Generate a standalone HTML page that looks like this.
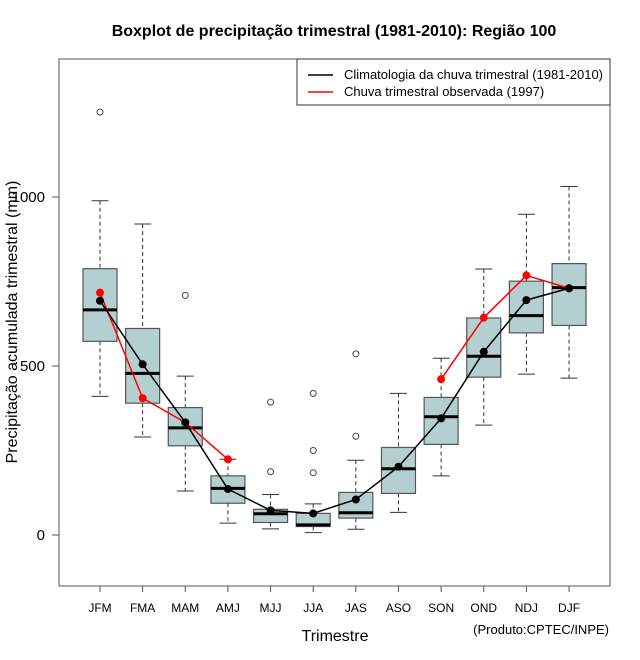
<!DOCTYPE html>
<html><head><meta charset="utf-8"><style>
html,body{margin:0;padding:0;background:#fff;}
svg{display:block;font-family:"Liberation Sans",sans-serif;}
</style></head><body>
<svg id="chart" width="640" height="660" viewBox="0 0 640 660">
<text x="334" y="36" text-anchor="middle" font-size="16" font-weight="bold">Boxplot de precipitação trimestral (1981-2010): Região 100</text>
<rect x="59" y="59" width="551" height="527" fill="none" stroke="#555" stroke-width="1"/>
<g id="yaxis"></g>
<g id="xaxis"></g>
<g id="boxes"></g>
<g id="lines"></g>
<text transform="translate(17,322) rotate(-90)" text-anchor="middle" font-size="16">Precipitação acumulada trimestral (mm)</text>
<text x="335" y="641" text-anchor="middle" font-size="16">Trimestre</text>
<text x="609" y="634" text-anchor="end" font-size="13">(Produto:CPTEC/INPE)</text>
<g>
<rect x="297" y="59" width="313" height="46" fill="#fff" stroke="#333" stroke-width="1"/>
<line x1="308" y1="75" x2="333" y2="75" stroke="#000" stroke-width="1.5"/>
<text x="344" y="79" font-size="13" textLength="259">Climatologia da chuva trimestral (1981-2010)</text>
<line x1="308" y1="92" x2="333" y2="92" stroke="#f00" stroke-width="1.5"/>
<text x="344" y="96" font-size="13">Chuva trimestral observada (1997)</text>
</g>
</svg>
<script>
const categories=["JFM","FMA","MAM","AMJ","MJJ","JJA","JAS","ASO","SON","OND","NDJ","DJF"];
const whiskLow=[410,290,130,35,18,7,17,67,175,325,476,464];
const q1=[573,390,264,94,37,25,50,123,268,467,598,620];
const median=[666,478,317,138,63,30,66,196,350,529,649,732];
const q3=[788,611,377,175,76,64,126,259,407,642,751,803];
const whiskHigh=[989,920,470,224,120,92,221,419,523,787,949,1031];
const outliers=[[1251],[],[709],[],[393,187],[419,250,184],[536,292],[],[],[],[],[]];
const climatology=[693,505,333,136,73,64,105,202,345,542,695,730];
const observed=[717,405,333,224,null,null,null,null,461,643,768,730];
const yTicks=[0,500,1000];

const NS="http://www.w3.org/2000/svg";
const xs=i=>100+i*42.64;
const ys=v=>535-v*0.338;
function mk(tag,attrs,parent){const e=document.createElementNS(NS,tag);for(const k in attrs)e.setAttribute(k,attrs[k]);parent.appendChild(e);return e;}
const yax=document.getElementById('yaxis'),xax=document.getElementById('xaxis'),bx=document.getElementById('boxes'),ln=document.getElementById('lines');
mk('line',{x1:59,y1:ys(0),x2:59,y2:ys(1000),stroke:'#555'},yax);
yTicks.forEach(t=>{
  const l=mk('line',{x1:52,y1:ys(t),x2:59,y2:ys(t),stroke:'#555'},yax);
  
  
  const tx=mk('text',{x:45,y:ys(t)+5,'text-anchor':'end','font-size':15},yax);
  tx.textContent=t;
  
  
});
mk('line',{x1:xs(0),y1:586,x2:xs(11),y2:586,stroke:'#555'},xax);
categories.forEach((c,i)=>{
  const l=mk('line',{x1:xs(i),y1:586,x2:xs(i),y2:592,stroke:'#555'},xax);
  
  
  const tx=mk('text',{x:xs(i),y:612,'text-anchor':'middle','font-size':12},xax);
  tx.textContent=c;
  
  
  const g=mk('g',{},bx);
  
  
  const x=xs(i),hw=17,cw=8.5;
  mk('line',{x1:x,y1:ys(whiskHigh[i]),x2:x,y2:ys(q3[i]),stroke:'#333','stroke-dasharray':'4,3'},g);
  mk('line',{x1:x,y1:ys(q1[i]),x2:x,y2:ys(whiskLow[i]),stroke:'#333','stroke-dasharray':'4,3'},g);
  mk('line',{x1:x-cw,y1:ys(whiskHigh[i]),x2:x+cw,y2:ys(whiskHigh[i]),stroke:'#333'},g);
  mk('line',{x1:x-cw,y1:ys(whiskLow[i]),x2:x+cw,y2:ys(whiskLow[i]),stroke:'#333'},g);
  mk('rect',{x:x-hw,y:ys(q3[i]),width:2*hw,height:ys(q1[i])-ys(q3[i]),fill:'#b4cfcf',stroke:'#555','stroke-width':1.2},g);
  mk('line',{x1:x-hw,y1:ys(median[i]),x2:x+hw,y2:ys(median[i]),stroke:'#000','stroke-width':3},g);
  outliers[i].forEach(o=>{
    const c2=mk('circle',{cx:x,cy:ys(o),r:3,fill:'none',stroke:'#444'},g);
    
    
  });
});
function series(vals,color,name){
  const g=mk('g',{},ln);
  
  
  let segs=[],cur=[];
  vals.forEach((v,i)=>{if(v==null){if(cur.length)segs.push(cur);cur=[];}else cur.push([xs(i),ys(v)]);});
  if(cur.length)segs.push(cur);
  segs.forEach(s=>{if(s.length>1)mk('polyline',{points:s.map(p=>p.join(',')).join(' '),fill:'none',stroke:color,'stroke-width':1.5},g);});
  vals.forEach((v,i)=>{if(v==null)return;
    const p=mk('circle',{cx:xs(i),cy:ys(v),r:4,fill:color},g);
    
    
  });
}
series(observed,'#f00','observed-series');
series(climatology,'#000','climatology-series');
</script>
</body></html>
